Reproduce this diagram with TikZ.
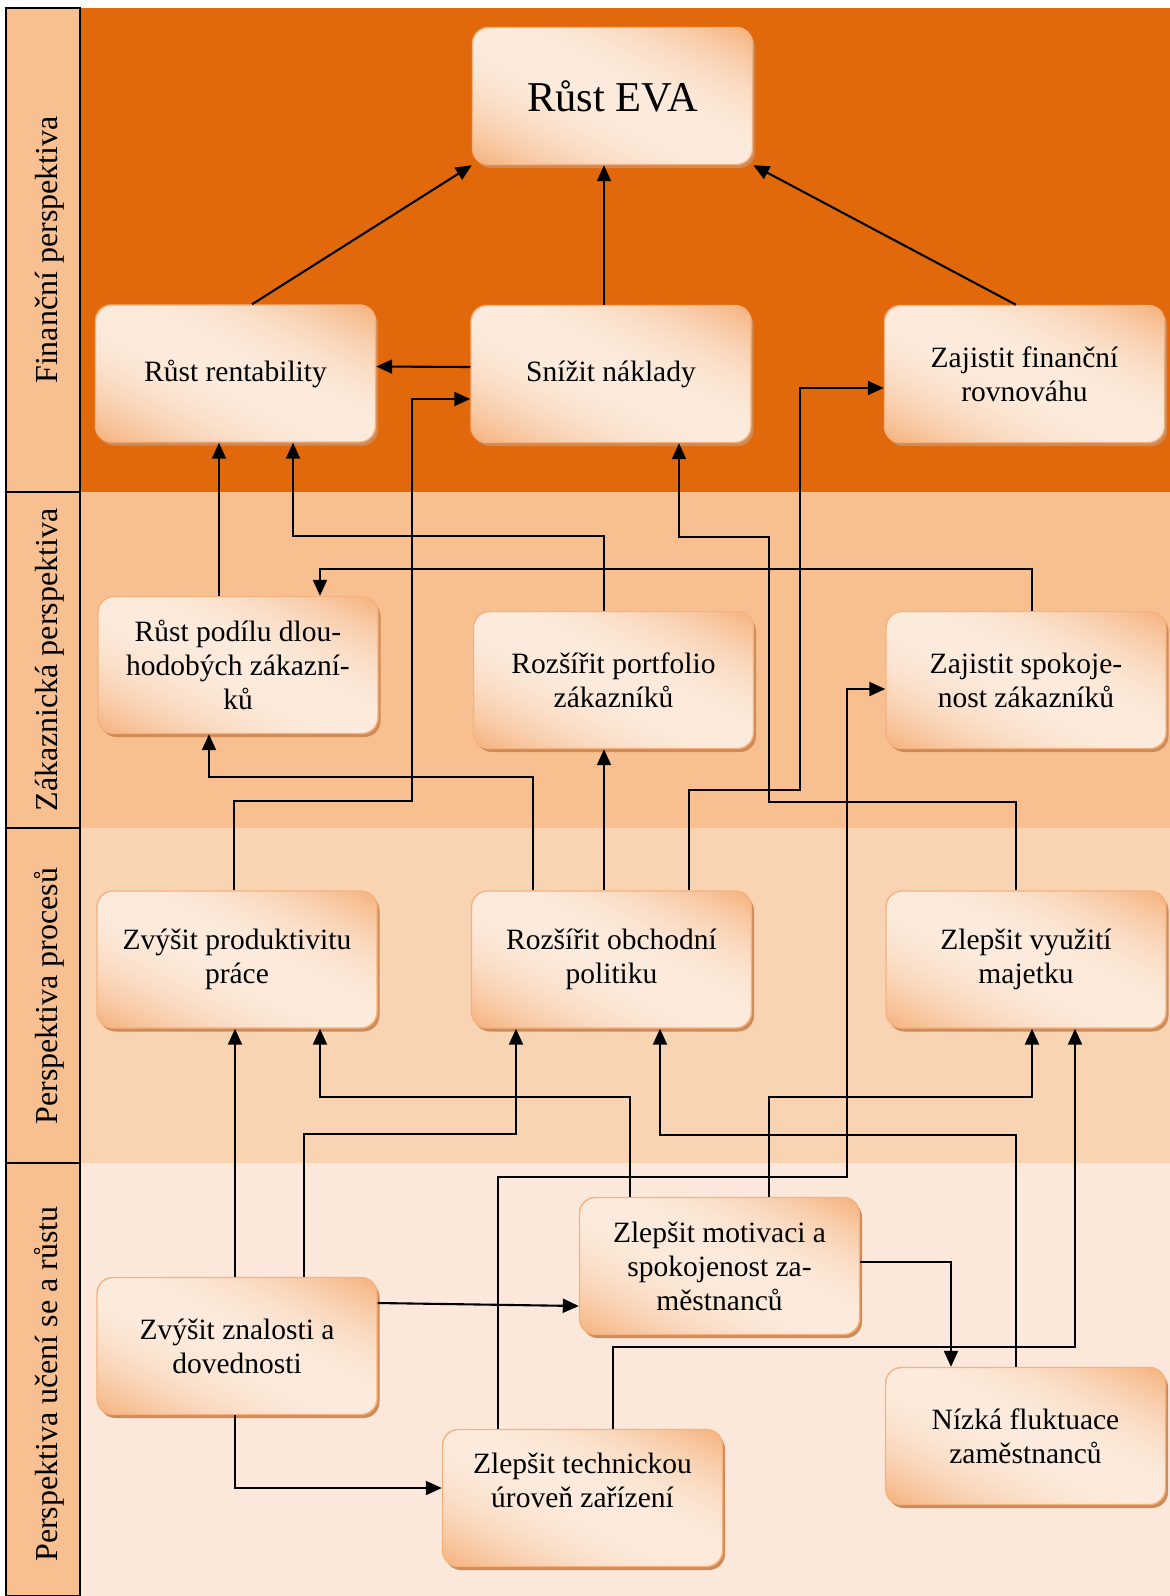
\documentclass[tikz,border=0pt]{standalone}
\usepackage{fontspec}
\setmainfont{Liberation Serif}
\usetikzlibrary{arrows.meta,shadows}

\definecolor{finband}{HTML}{E2690B}
\definecolor{custband}{HTML}{F8C091}
\definecolor{procband}{HTML}{F9D4B3}
\definecolor{learnband}{HTML}{FBE8DA}
\definecolor{lanefill}{HTML}{F8C091}
\definecolor{cardedge}{HTML}{F5B27E}
\definecolor{cardshadow}{HTML}{D08A55}

% card gradient: light along the top-left/bottom-right diagonal,
% warmer towards the top-right and bottom-left corners
\pgfdeclarefunctionalshading{cardshade}{\pgfpoint{-50bp}{-50bp}}{\pgfpoint{50bp}{50bp}}{}{%
  add 50 div dup mul
  dup -0.027 mul 0.988 add exch
  dup -0.232 mul 0.922 add exch
  -0.389 mul 0.867 add}

\newcommand\cardfont{\fontsize{29.5pt}{34pt}\selectfont}
\newcommand\evafont{\fontsize{42.5pt}{48pt}\selectfont}
\newcommand\lanefont{\fontsize{32pt}{38pt}\selectfont}

\begin{document}
\begin{tikzpicture}[x=1pt, y=-1pt,
  card/.style={rounded corners=16pt, minimum width=280pt, minimum height=137pt,
    inner sep=4pt, draw=cardedge, line width=1.4pt,
    shading=cardshade, align=center, text=black, font=\cardfont,
    drop shadow={shadow xshift=2.5pt, shadow yshift=-3.5pt, fill=cardshadow, opacity=1}},
  conn/.style={line width=2.1pt, draw=black, -{Triangle[length=16pt,width=14pt]}},
  lane/.style={draw=black, line width=1.5pt, fill=lanefill},
  lanetext/.style={rotate=90, anchor=base, font=\lanefont, inner sep=0pt}]

\useasboundingbox (0,0) rectangle (1170,1596);

% perspective bands
\fill[finband]   (80,8)    rectangle (1170,492);
\fill[custband]  (80,492)  rectangle (1170,828);
\fill[procband]  (80,828)  rectangle (1170,1163);
\fill[learnband] (80,1163) rectangle (1170,1596);

% band headers
\draw[lane] (6,8)    rectangle (80,492);
\draw[lane] (6,492)  rectangle (80,828);
\draw[lane] (6,828)  rectangle (80,1163);
\draw[lane] (6,1163) rectangle (80,1596);
\node[lanetext] (hfin)  at (57,250)  {Finanční perspektiva};
\node[lanetext] (hcust) at (57,660)  {Zákaznická perspektiva};
\node[lanetext] (hproc) at (57,996)  {Perspektiva procesů};
\node[lanetext] (hlearn) at (57,1384) {Perspektiva učení se a růstu};

% goals
\node[card, font=\evafont] (eva) at (612.5,96) {Růst EVA};
\node[card] (rent)  at (235.5,373.5) {Růst rentability};
\node[card] (nakl)  at (611,374)     {Snížit náklady};
\node[card] (rovn)  at (1024.5,374)  {Zajistit finanční\\rovnováhu};
\node[card] (podil) at (238,665)     {Růst podílu dlou-\\hodobých zákazní-\\ků};
\node[card] (portf) at (613.5,680)   {Rozšířit portfolio\\zákazníků};
\node[card] (spok)  at (1026,680)    {Zajistit spokoje-\\nost zákazníků};
\node[card] (prod)  at (237,959.5)   {Zvýšit produktivitu\\práce};
\node[card] (obch)  at (611.5,959.5) {Rozšířit obchodní\\politiku};
\node[card] (majet) at (1026,959.5)  {Zlepšit využití\\majetku};
\node[card] (znal)  at (237,1346)    {Zvýšit znalosti a\\dovednosti};
\node[card] (motiv) at (719.5,1266)  {Zlepšit motivaci a\\spokojenost za-\\městnanců};
\node[card] (tech)  at (582.5,1498)  {Zlepšit technickou\\úroveň zařízení\rule[-35pt]{0pt}{35pt}};
\node[card] (fluk)  at (1025.5,1436) {Nízká fluktuace\\zaměstnanců};

% financial links
\draw[conn] ([xshift=16.5pt]rent.north) -- (eva.south west);
\draw[conn] ([xshift=-7pt]nakl.north) -- ([xshift=-7pt]nakl.north |- eva.south);
\draw[conn] ([xshift=-8.5pt]rovn.north) -- (eva.south east);
\draw[conn] ([yshift=7pt]nakl.west) -- ([yshift=7pt]rent.east);

% customer links
\draw[conn] ([xshift=-19pt]podil.north) -- ([xshift=-19pt]podil.north |- rent.south);
\draw[conn] ([xshift=-9.5pt]portf.north) -- ++(0,-75) -| ([xshift=57.5pt]rent.south);
\draw[conn] ([xshift=6pt]spok.north) -- ++(0,-42) -| ([xshift=82pt]podil.north);

% process links
\draw[conn] ([xshift=-3pt]prod.north) |- (412,801) |- ([yshift=-25pt]nakl.west);
\draw[conn] ([xshift=-78.5pt]obch.north) -- ++(0,-113) -| ([xshift=-29pt]podil.south);
\draw[conn] ([xshift=-7.5pt]obch.north) -- ([xshift=-7.5pt]obch.north |- portf.south);
\draw[conn] ([xshift=77.5pt]obch.north) |- (800,790) |- ([yshift=-14pt]rovn.west);
\draw[conn] ([xshift=-10pt]majet.north) |- (769,802) -- (769,537) -| ([xshift=68pt]nakl.south);

% learning and growth links
\draw[conn] ([xshift=-2pt]znal.north) -- ([xshift=-2pt]znal.north |- prod.south);
\draw[conn] ([xshift=67pt]znal.north) -- ++(0,-143) -| ([xshift=-95.5pt]obch.south);
\draw[conn] ([xshift=-89.5pt]motiv.north) -- ++(0,-100) -| ([xshift=83pt]prod.south);
\draw[conn] ([xshift=49.5pt]motiv.north) -- ++(0,-100) -| ([xshift=6pt]majet.south);
\draw[conn] ([xshift=-9.5pt]fluk.north) -- ++(0,-232) -| ([xshift=48.5pt]obch.south);
\draw[conn] ([xshift=30.5pt]tech.north) -- ++(0,-81.5) -| ([xshift=49pt]majet.south);
\draw[conn] ([xshift=-84.5pt]tech.north) |- (847,1177) |- ([yshift=-9pt]spok.west);
\draw[conn] ([yshift=4pt]motiv.east) -| ([xshift=-74.5pt]fluk.north);
\draw[conn] ([yshift=43pt]znal.east) -- ([yshift=-40pt]motiv.west);
\draw[conn] ([xshift=-2pt]znal.south) |- ([yshift=10pt]tech.west);
\end{tikzpicture}
\end{document}
